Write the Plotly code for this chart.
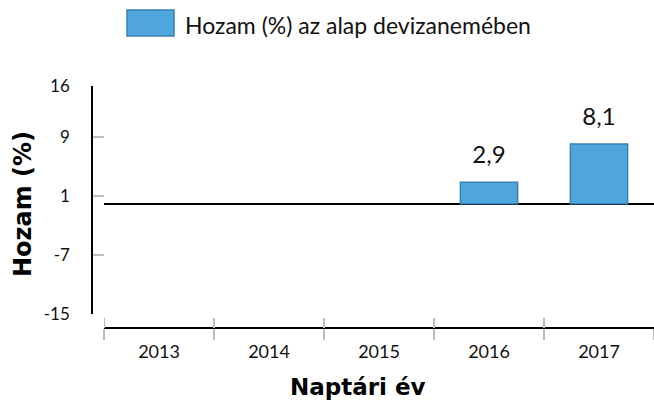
import plotly.graph_objects as go

years = ["2013", "2014", "2015", "2016", "2017"]
returns = [None, None, None, 2.9, 8.1]
y_ticks = [16, 9, 1, -7, -15]
legend_label = "Hozam (%) az alap devizanemében"
y_title = "Hozam (%)"
x_title = "Naptári év"

W, H = 654, 401
top, bottom = 86, 328          # plot area pixel rows
ax_bottom = 314                # y axis bottom pixel
x_left = 104                   # x axis domain start pixel
y_line_x = 92                  # y axis line pixel column
ph = bottom - top

def py(p):
    return (bottom - p) / ph

FONT = "Lato"
TFONT = "DejaVu Sans"
bar_fill = "#4FA6DC"
bar_edge = "#3A80B3"
tick_gray = "#BDBDBD"

fig = go.Figure()
fig.add_trace(go.Bar(
    x=years, y=returns,
    marker=dict(color=bar_fill, line=dict(color=bar_edge, width=1.5)),
    showlegend=False, hoverinfo="skip",
))
fig.add_trace(go.Scatter(
    x=years, y=returns, mode="markers+text",
    marker=dict(size=20, opacity=0),
    texttemplate="%{y:.1f}", textposition="top center",
    textfont=dict(family=FONT, size=24, color="#111111"),
    showlegend=False, hoverinfo="skip", cliponaxis=False,
))

annotations = []
annotations.append(dict(
    x=23 / W, y=py(204), xref="paper", yref="paper", text=f"<b>{y_title}</b>",
    textangle=-90, showarrow=False, xanchor="center", yanchor="middle",
    font=dict(family=TFONT, size=24, color="#000000"),
))
annotations.append(dict(
    x=358 / W, y=py(387), xref="paper", yref="paper", text=f"<b>{x_title}</b>",
    showarrow=False, xanchor="center", yanchor="middle",
    font=dict(family=TFONT, size=23, color="#000000"),
))
annotations.append(dict(
    x=183 / W, y=py(25), xref="paper", yref="paper", text=legend_label,
    showarrow=False, xanchor="left", yanchor="middle",
    font=dict(family=FONT, size=23, color="#111111"),
))

shapes = [dict(
    type="rect", xref="paper", yref="paper",
    x0=127 / W, x1=174 / W, y0=py(36), y1=py(10),
    fillcolor=bar_fill, line=dict(color=bar_edge, width=1.5),
)]
for i in range(len(years)):
    shapes.append(dict(
        type="line", xref="x", yref="paper",
        x0=i - 0.5, x1=i - 0.5, y0=0, y1=10 / ph,
        line=dict(color=tick_gray, width=2),
    ))

fig.update_layout(
    width=W, height=H,
    margin=dict(l=0, r=0, t=top, b=H - bottom, autoexpand=False),
    plot_bgcolor="white", paper_bgcolor="white",
    separators=",.",
    bargap=0.48,
    font=dict(family=FONT, color="#111111"),
    xaxis=dict(
        type="category", domain=[x_left / W, 1], anchor="free", position=0,
        range=[-0.5, 4.5],
        showline=True, linecolor="#000000", linewidth=1.5,
        ticks="outside", ticklen=11, tickwidth=2, tickcolor=tick_gray,
        tickson="boundaries", showgrid=False, zeroline=False,
        ticklabelstandoff=8,
        tickfont=dict(family=FONT, size=18, color="#111111"),
        automargin=False,
    ),
    yaxis=dict(
        domain=[py(ax_bottom), 1], anchor="free", position=y_line_x / W,
        range=[-15, 16], tickmode="array", tickvals=y_ticks,
        ticktext=[str(v) for v in y_ticks],
        showline=True, linecolor="#000000", linewidth=1.5,
        ticks="inside", ticklen=11, tickwidth=2, tickcolor=tick_gray,
        ticklabelstandoff=18, showgrid=False,
        zeroline=True, zerolinecolor="#000000", zerolinewidth=1.5,
        tickfont=dict(family=FONT, size=17, color="#111111"),
        automargin=False,
    ),
    annotations=annotations,
    shapes=shapes,
)

fig.write_html("out.html", config={"displayModeBar": False},
               post_script="document.body.style.margin='0';")
